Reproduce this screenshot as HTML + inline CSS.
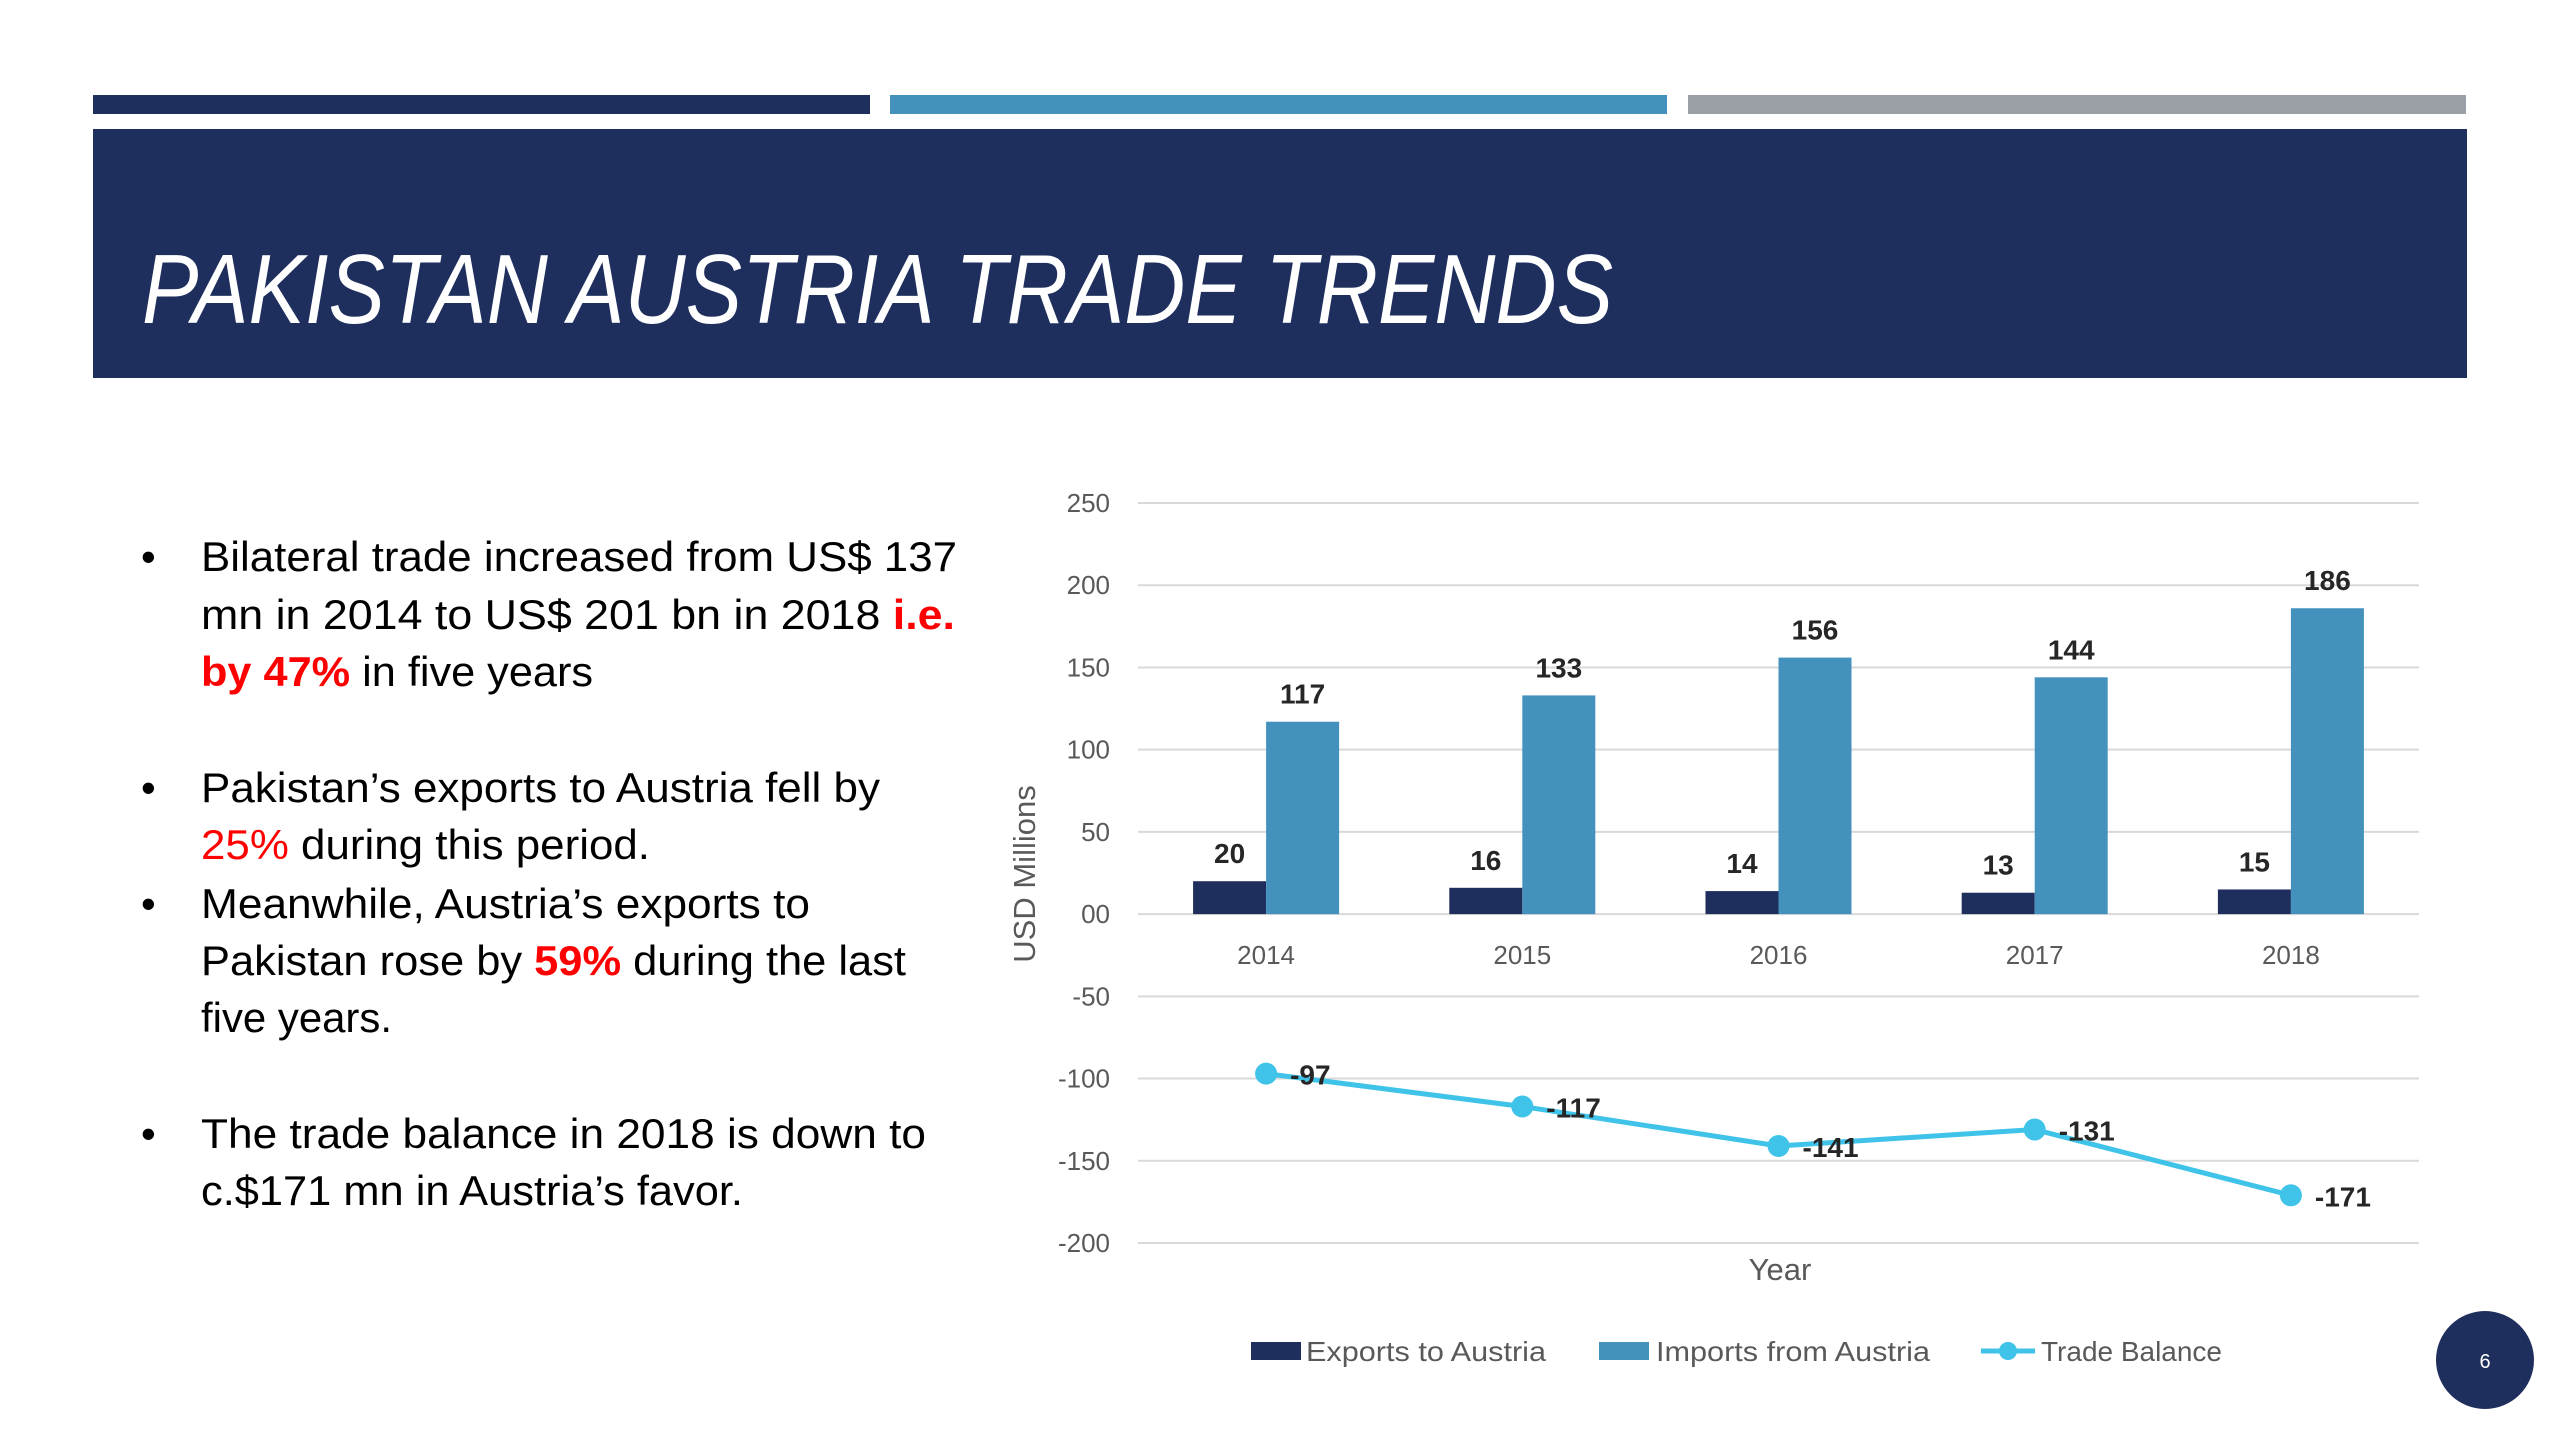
<!DOCTYPE html>
<html><head><meta charset="utf-8">
<style>
html,body{margin:0;padding:0;background:#fff;}
svg{display:block;font-family:"Liberation Sans",sans-serif;}
</style></head>
<body>
<svg id="slide" width="2560" height="1440" viewBox="0 0 2560 1440" xmlns="http://www.w3.org/2000/svg">
  <rect x="93" y="95" width="777" height="19" fill="#1E2F5E"/>
  <rect x="890" y="95" width="777" height="19" fill="#4591BE"/>
  <rect x="1688" y="95" width="778" height="19" fill="#9AA0A6"/>
  <rect x="93" y="129" width="2374" height="249" fill="#1E2F5E"/>
  <text x="142" y="323" font-size="98" font-style="italic" fill="#fff" textLength="1471" lengthAdjust="spacingAndGlyphs">PAKISTAN AUSTRIA TRADE TRENDS</text>

  <g font-size="42" fill="#000">
    <text x="141" y="571">•</text>
    <text x="201" y="571" textLength="756" lengthAdjust="spacingAndGlyphs">Bilateral trade increased from US$ 137</text>
    <text x="201" y="629" textLength="754" lengthAdjust="spacingAndGlyphs">mn in 2014 to US$ 201 bn in 2018 <tspan fill="#FF0000" font-weight="bold">i.e.</tspan></text>
    <text x="201" y="686" textLength="392" lengthAdjust="spacingAndGlyphs"><tspan fill="#FF0000" font-weight="bold">by 47%</tspan> in five years</text>

    <text x="141" y="802">•</text>
    <text x="201" y="802" textLength="679" lengthAdjust="spacingAndGlyphs">Pakistan’s exports to Austria fell by</text>
    <text x="201" y="859" textLength="449" lengthAdjust="spacingAndGlyphs"><tspan fill="#FF0000">25%</tspan> during this period.</text>

    <text x="141" y="918">•</text>
    <text x="201" y="918" textLength="609" lengthAdjust="spacingAndGlyphs">Meanwhile, Austria’s exports to</text>
    <text x="201" y="975" textLength="705" lengthAdjust="spacingAndGlyphs">Pakistan rose by <tspan fill="#FF0000" font-weight="bold">59%</tspan> during the last</text>
    <text x="201" y="1032" textLength="191" lengthAdjust="spacingAndGlyphs">five years.</text>

    <text x="141" y="1148">•</text>
    <text x="201" y="1148" textLength="725" lengthAdjust="spacingAndGlyphs">The trade balance in 2018 is down to</text>
    <text x="201" y="1205" textLength="542" lengthAdjust="spacingAndGlyphs">c.$171 mn in Austria’s favor.</text>
  </g>

  <g id="chart"></g>

  <g font-size="28" fill="#595959">
    <rect x="1251" y="1342" width="50" height="18" fill="#1E2F5E"/>
    <text x="1306" y="1361" textLength="240" lengthAdjust="spacingAndGlyphs">Exports to Austria</text>
    <rect x="1599" y="1342" width="50" height="18" fill="#4591BE"/>
    <text x="1656" y="1361" textLength="274" lengthAdjust="spacingAndGlyphs">Imports from Austria</text>
    <line x1="1981" y1="1351" x2="2035" y2="1351" stroke="#3FC3E8" stroke-width="5"/>
    <circle cx="2008" cy="1351" r="9" fill="#3FC3E8"/>
    <text x="2041" y="1361" textLength="181" lengthAdjust="spacingAndGlyphs">Trade Balance</text>
  </g>

  <circle cx="2485" cy="1360" r="49" fill="#1E2F5E"/>
  <text x="2485" y="1368" font-size="20" fill="#fff" text-anchor="middle">6</text>
</svg>
<script>
const categories = ["2014","2015","2016","2017","2018"];
const exportsVals = [20,16,14,13,15];
const importsVals = [117,133,156,144,186];
const balanceVals = [-97,-117,-141,-131,-171];
const yTicks = [250,200,150,100,50,0,-50,-100,-150,-200];
const yTickLabels = ["250","200","150","100","50","00","-50","-100","-150","-200"];

const NS = "http://www.w3.org/2000/svg";
const g = document.getElementById("chart");
const plotL = 1138, plotR = 2419, yTop = 503, yBot = 1243, vMax = 250, vMin = -200;
const catW = (plotR - plotL) / categories.length;
const barW = catW * 0.285;
function y(v){ return yTop + (vMax - v) / (vMax - vMin) * (yBot - yTop); }
function xc(i){ return plotL + catW * (i + 0.5); }
function mk(tag, attrs){ const e = document.createElementNS(NS, tag); for (const k in attrs) e.setAttribute(k, attrs[k]); g.appendChild(e); return e; }

yTicks.forEach((t, i) => {
  const ln = mk("line", {x1: plotL, x2: plotR, y1: y(t), y2: y(t), stroke: "#D9D9D9", "stroke-width": 2});
  
  
  const tx = mk("text", {x: 1110, y: y(t) + 9, "font-size": 26, fill: "#595959", "text-anchor": "end"});
  tx.textContent = yTickLabels[i];
  
  
});

categories.forEach((c, i) => {
  const eb = mk("rect", {x: xc(i) - barW, y: y(exportsVals[i]), width: barW, height: y(0) - y(exportsVals[i]), fill: "#1E2F5E"});
  
  
  const ib = mk("rect", {x: xc(i), y: y(importsVals[i]), width: barW, height: y(0) - y(importsVals[i]), fill: "#4591BE"});
  
  
  const el = mk("text", {x: xc(i) - barW / 2, y: y(exportsVals[i]) - 18, "font-size": 28, "font-weight": "bold", fill: "#262626", "text-anchor": "middle"});
  el.textContent = exportsVals[i];
  
  
  const il = mk("text", {x: xc(i) + barW / 2, y: y(importsVals[i]) - 18, "font-size": 28, "font-weight": "bold", fill: "#262626", "text-anchor": "middle"});
  il.textContent = importsVals[i];
  
  
  const cl = mk("text", {x: xc(i), y: 964, "font-size": 26, fill: "#595959", "text-anchor": "middle"});
  cl.textContent = c;
  
  
});

const pts = balanceVals.map((v, i) => xc(i) + "," + y(v)).join(" ");
const pl = mk("polyline", {points: pts, fill: "none", stroke: "#3FC3E8", "stroke-width": 5});


balanceVals.forEach((v, i) => {
  const c = mk("circle", {cx: xc(i), cy: y(v), r: 11, fill: "#3FC3E8"});
  
  
  const t = mk("text", {x: xc(i) + 24, y: y(v) + 11, "font-size": 28, "font-weight": "bold", fill: "#262626"});
  t.textContent = v;
  
  
});

const yt = mk("text", {x: 0, y: 0, "font-size": 31, fill: "#595959", "text-anchor": "middle", transform: "translate(1035,874) rotate(-90)"});
yt.textContent = "USD Millions";


const xt = mk("text", {x: 1780, y: 1280, "font-size": 31, fill: "#595959", "text-anchor": "middle"});
xt.textContent = "Year";


</script>
</body></html>
